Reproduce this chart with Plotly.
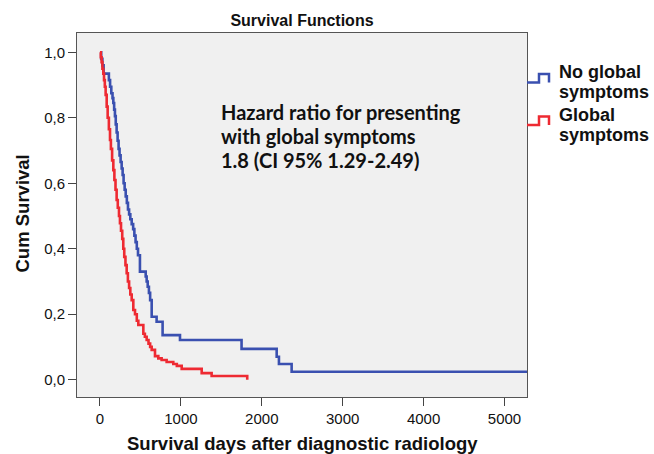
import plotly.graph_objects as go

# Kaplan-Meier step data (days, cumulative survival after the step)
blue_days = [0, 15, 30, 45, 110, 125, 140, 155, 165, 175, 185, 195, 206, 218, 230, 242,
             255, 268, 280, 292, 305, 318, 332, 346, 360, 375, 392, 410, 425, 440, 455, 470,
             494, 565, 577, 590, 605, 620, 639, 700, 774, 989, 1750, 2184, 2212, 2369, 5300]
blue_surv = [1.0, 0.98, 0.96, 0.935, 0.915, 0.895, 0.875, 0.86, 0.845, 0.825, 0.805, 0.78,
             0.755, 0.73, 0.705, 0.685, 0.665, 0.645, 0.625, 0.6, 0.58, 0.56, 0.54, 0.52,
             0.505, 0.49, 0.475, 0.46, 0.44, 0.42, 0.40, 0.38, 0.33, 0.315, 0.30, 0.284,
             0.265, 0.243, 0.192, 0.177, 0.136, 0.121, 0.094, 0.07, 0.048, 0.024, 0.024]

red_days = [0, 10, 20, 30, 41, 50, 60, 70, 83, 95, 110, 124, 135, 150, 165, 178, 192, 206,
            220, 235, 247, 260, 275, 288, 300, 315, 330, 345, 360, 375, 392, 412, 433, 455,
            474, 536, 555, 577, 600, 620, 639, 680, 721, 762, 824, 906, 950, 1010, 1257,
            1380, 1820]
red_surv = [1.0, 0.985, 0.97, 0.95, 0.935, 0.915, 0.895, 0.87, 0.834, 0.80, 0.765, 0.732,
            0.705, 0.67, 0.64, 0.61, 0.58, 0.549, 0.525, 0.50, 0.478, 0.455, 0.43, 0.40,
            0.375, 0.35, 0.325, 0.30, 0.28, 0.26, 0.243, 0.213, 0.2, 0.18, 0.167, 0.14,
            0.131, 0.121, 0.11, 0.10, 0.091, 0.072, 0.065, 0.06, 0.054, 0.048, 0.042, 0.033,
            0.02, 0.011, 0.0]

legend_lines = [["No global", "symptoms"], ["Global", "symptoms"]]
hazard_lines = ["Hazard ratio for presenting", "with global symptoms", "1.8 (CI 95% 1.29-2.49)"]
x_ticks = [0, 1000, 2000, 3000, 4000, 5000]
y_ticks = [0.0, 0.2, 0.4, 0.6, 0.8, 1.0]
y_ticklabels = ["0,0", "0,2", "0,4", "0,6", "0,8", "1,0"]

BLUE = "#3A50B0"
RED = "#EE2A32"
FONT = "Liberation Sans, Arial, sans-serif"
TXT = "#111111"

fig = go.Figure()
fig.add_trace(go.Scatter(x=blue_days, y=blue_surv, mode="lines", line_shape="hv",
                         line=dict(color=BLUE, width=2.6), name="No global symptoms",
                         showlegend=False))
fig.add_trace(go.Scatter(x=red_days, y=red_surv, mode="lines", line_shape="hv",
                         line=dict(color=RED, width=2.6), name="Global symptoms",
                         showlegend=False))

L, R, T, B = 77, 527, 33, 397
W, H = 654, 454


def px(xp):
    return (xp - L) / (R - L)


def py(yp):
    return (B - yp) / (B - T)


def text(x, y, s, size, family=FONT, xanchor="left", angle=0):
    fig.add_annotation(xref="paper", yref="paper", x=px(x), y=py(y), xanchor=xanchor,
                       yanchor="middle", text=f"<b>{s}</b>", showarrow=False,
                       textangle=angle, font=dict(family=family, size=size, color=TXT))


# Legend (step glyphs + labels) outside the plot area
for color, ybot, ytop in [(BLUE, 82.5, 74), (RED, 125, 116.5)]:
    fig.add_shape(type="path", xref="paper", yref="paper",
                  path=(f"M {px(527)},{py(ybot)} L {px(539)},{py(ybot)} L {px(539)},{py(ytop)} "
                        f"L {px(549)},{py(ytop)} L {px(549)},{py(ybot)}"),
                  line=dict(color=color, width=2.5))
for lines, y0 in zip(legend_lines, [72, 115.5]):
    for i, s in enumerate(lines):
        text(557, y0 + i * 19.5, s, 18)

for i, s in enumerate(hazard_lines):
    text(219, 112 + i * 24, s, 20, family="Lato, Open Sans, sans-serif")

text((L + R) / 2, 443, "Survival days after diagnostic radiology", 18.5, xanchor="center")
text(22, 213.5, "Cum Survival", 18.5, xanchor="center", angle=-90)

fig.update_layout(
    width=W, height=H,
    margin=dict(l=L, r=W - R, t=T, b=H - B, autoexpand=False),
    paper_bgcolor="white", plot_bgcolor="#F0F0F0",
    title=dict(text="<b>Survival Functions</b>", x=(L + R) / 2 / W, xanchor="center",
               y=1 - 20 / H, yanchor="middle", font=dict(family=FONT, size=16, color=TXT)),
    font=dict(family=FONT, size=15, color=TXT),
    xaxis=dict(range=[-284, 5278], tickvals=x_ticks, showgrid=False, zeroline=False,
               ticks="outside", ticklen=8, tickcolor="#444", showline=True, mirror=True,
               linecolor="#555", linewidth=1, tickfont=dict(size=15), automargin=False),
    yaxis=dict(range=[-0.053, 1.059], tickvals=y_ticks, ticktext=y_ticklabels,
               showgrid=False, zeroline=False, ticks="outside", ticklen=8, tickcolor="#444",
               showline=True, mirror=True, linecolor="#555", linewidth=1,
               tickfont=dict(size=15), automargin=False),
)

fig.write_html("out.html", config={"displayModeBar": False},
               post_script="document.body.style.margin='0px';document.body.style.overflow='hidden';")
